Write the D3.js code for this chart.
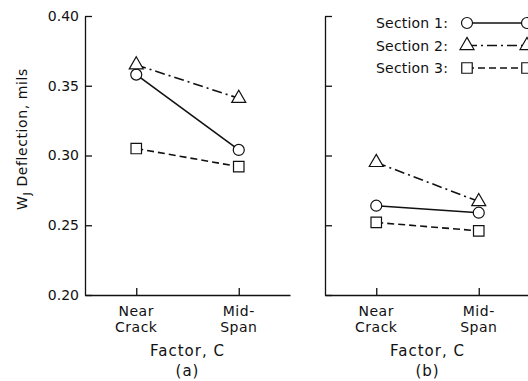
<!DOCTYPE html>
<html>
<head>
<meta charset="utf-8">
<script src="https://cdn.jsdelivr.net/npm/d3@7"></script>
<style>
  body { margin: 0; padding: 0; background: white; }
  text { font-family: "DejaVu Sans", sans-serif; fill: #111; }
</style>
</head>
<body>
<div id="chart"></div>
<script>
const width = 528;
const height = 381;

// data
const factorLevels = ["Near Crack", "Mid-Span"];
const sections = ["Section 1:", "Section 2:", "Section 3:"];
const panelA = [
  [0.358, 0.304], // section 1
  [0.365, 0.341], // section 2
  [0.305, 0.292]  // section 3
];
const panelB = [
  [0.264, 0.259],
  [0.295, 0.267],
  [0.252, 0.246]
];
const yTicks = [0.20, 0.25, 0.30, 0.35, 0.40];

const symbols = [d3.symbolCircle, d3.symbolTriangle, d3.symbolSquare];
const symbolSizes = [95, 85, 110];
const dashes = [null, "10,4,2,4", "7,4"];

const svg = d3.select("#chart")
  .append("svg")
  .attr("width", width)
  .attr("height", height)
  .style("background-color", "white");

const y = d3.scaleLinear().domain([0.20, 0.40]).range([295, 16]);

function drawPanel(x0, x1, values, showLabels, tag) {
  const x = d3.scalePoint().domain(factorLevels).range([x0, x1]).padding(0.5);
  const g = svg.append("g");

  // y axis, ticks pointing inward
  const yAxis = d3.axisLeft(y)
    .tickValues(yTicks)
    .tickSizeInner(-7)
    .tickSizeOuter(0)
    .tickPadding(6)
    .tickFormat(showLabels ? d3.format(".2f") : "");
  const ya = g.append("g")
    .attr("transform", "translate(" + x0 + ",0)")
    .call(yAxis);
  ya.selectAll("text").style("font-size", "14px").style("font-family", "DejaVu Sans");
  ya.selectAll("line, path").attr("stroke", "#111").attr("stroke-width", 1.3);

  // x axis, ticks pointing up
  const xAxis = d3.axisBottom(x).tickSizeInner(-7).tickSizeOuter(0).tickFormat("");
  const xa = g.append("g")
    .attr("transform", "translate(0," + y(0.20) + ")")
    .call(xAxis);
  xa.selectAll("line, path").attr("stroke", "#111").attr("stroke-width", 1.3);

  // two-line category labels
  factorLevels.forEach(function (lev) {
    const parts = lev === "Near Crack" ? ["Near", "Crack"] : ["Mid-", "Span"];
    parts.forEach(function (p, i) {
      g.append("text")
        .attr("x", x(lev))
        .attr("y", 316 + i * 16)
        .attr("text-anchor", "middle")
        .style("font-size", "14px")
        .style("letter-spacing", "0.5px")
        .text(p);
    });
  });

  const mid = (x(factorLevels[0]) + x(factorLevels[1])) / 2;
  g.append("text")
    .attr("x", mid)
    .attr("y", 356)
    .attr("text-anchor", "middle")
    .style("font-size", "15px")
    .style("letter-spacing", "1px")
    .text("Factor, C");
  g.append("text")
    .attr("x", mid)
    .attr("y", 376)
    .attr("text-anchor", "middle")
    .style("font-size", "15px")
    .style("letter-spacing", "1px")
    .text(tag);

  const line = d3.line()
    .x((d, i) => x(factorLevels[i]))
    .y(d => y(d));

  values.forEach(function (vals, s) {
    g.append("path")
      .datum(vals)
      .attr("d", line)
      .attr("fill", "none")
      .attr("stroke", "#111")
      .attr("stroke-width", 1.6)
      .attr("stroke-dasharray", dashes[s]);
  });

  values.forEach(function (vals, s) {
    g.selectAll(".m" + s)
      .data(vals)
      .enter()
      .append("path")
      .attr("class", "m" + s)
      .attr("d", d3.symbol().type(symbols[s]).size(symbolSizes[s]))
      .attr("transform", (d, i) => "translate(" + x(factorLevels[i]) + "," + y(d) + ")")
      .attr("fill", "white")
      .attr("stroke", "#111")
      .attr("stroke-width", 1.2);
  });
}

drawPanel(85, 290, panelA, true, "(a)");
drawPanel(325, 530, panelB, false, "(b)");

// y axis title
svg.append("text")
  .attr("transform", "translate(27,139) rotate(-90)")
  .attr("text-anchor", "middle")
  .style("font-size", "14px")
  .style("letter-spacing", "0.6px")
  .call(function (t) {
    t.append("tspan").text("W");
    t.append("tspan").attr("dy", 4).style("font-size", "11px").text("J");
    t.append("tspan").attr("dy", -4).text(" Deflection, mils");
  });

// legend
const legend = svg.append("g");
sections.forEach(function (name, i) {
  const ly = 23 + i * 22.5;
  legend.append("text")
    .attr("x", 376)
    .attr("y", ly + 5)
    .style("font-size", "14px")
    .style("letter-spacing", "0.2px")
    .text(name);
  legend.append("line")
    .attr("x1", 467).attr("x2", 527)
    .attr("y1", ly).attr("y2", ly)
    .attr("stroke", "#111")
    .attr("stroke-width", 1.6)
    .attr("stroke-dasharray", dashes[i]);
  [467, 527].forEach(function (mx) {
    legend.append("path")
      .attr("d", d3.symbol().type(symbols[i]).size(symbolSizes[i]))
      .attr("transform", "translate(" + mx + "," + ly + ")")
      .attr("fill", "white")
      .attr("stroke", "#111")
      .attr("stroke-width", 1.2);
  });
});
</script>
</body>
</html>
